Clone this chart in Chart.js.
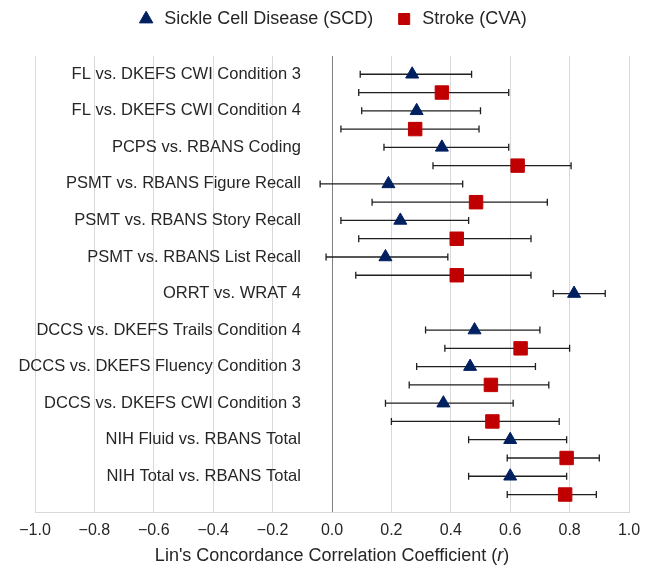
<!DOCTYPE html>
<html>
<head>
<meta charset="utf-8">
<script src="https://cdn.jsdelivr.net/npm/chart.js@4.4.1/dist/chart.umd.min.js"></script>
<style>
  html, body { margin: 0; padding: 0; background: #fff; }
  #wrap { width: 656px; height: 570px; }
</style>
</head>
<body>
<div id="wrap"><canvas id="chart"></canvas></div>
<script>
const categories = [
  'FL vs. DKEFS CWI Condition 3',
  'FL vs. DKEFS CWI Condition 4',
  'PCPS vs. RBANS Coding',
  'PSMT vs. RBANS Figure Recall',
  'PSMT vs. RBANS Story Recall',
  'PSMT vs. RBANS List Recall',
  'ORRT vs. WRAT 4',
  'DCCS vs. DKEFS Trails Condition 4',
  'DCCS vs. DKEFS Fluency Condition 3',
  'DCCS vs. DKEFS CWI Condition 3',
  'NIH Fluid vs. RBANS Total',
  'NIH Total vs. RBANS Total'
]

// Sickle Cell Disease (SCD)
const scdR    = [0.27, 0.285, 0.37, 0.19, 0.23, 0.18, 0.815, 0.48, 0.465, 0.375, 0.60, 0.60]
const scdLow  = [0.095, 0.10, 0.175, -0.04, 0.03, -0.02, 0.745, 0.315, 0.285, 0.18, 0.46, 0.46]
const scdHigh = [0.47, 0.50, 0.595, 0.44, 0.46, 0.39, 0.92, 0.70, 0.685, 0.61, 0.79, 0.79]

// Stroke (CVA)
const cvaR    = [0.37, 0.28, 0.625, 0.485, 0.42, 0.42, null, 0.635, 0.535, 0.54, 0.79, 0.785]
const cvaLow  = [0.09, 0.03, 0.34, 0.135, 0.09, 0.08, null, 0.38, 0.26, 0.20, 0.59, 0.59]
const cvaHigh = [0.595, 0.495, 0.805, 0.725, 0.67, 0.67, null, 0.80, 0.73, 0.765, 0.90, 0.89]

const xTicks = [-1, -0.8, -0.6, -0.4, -0.2, 0, 0.2, 0.4, 0.6, 0.8, 1]

const FONT = "'Liberation Sans', Arial, Helvetica, sans-serif"

// each category gets two rows: SCD on the even row, CVA just below it
const scdPoints = scdR.map((r, i) => ({ x: r, y: 2 * i, lo: scdLow[i], hi: scdHigh[i] }))
const cvaPoints = cvaR.map((r, i) => r === null ? null : ({ x: r, y: 2 * i + 1, lo: cvaLow[i], hi: cvaHigh[i] }))
  .filter(p => p !== null)

const errorBars = {
  id: 'errorBars',
  beforeDatasetsDraw(chart) {
    const { ctx, scales: { x, y } } = chart
    ctx.save()
    ctx.strokeStyle = '#1f1f1f'
    ctx.lineWidth = 1.3
    chart.data.datasets.forEach(ds => {
      ds.data.forEach(p => {
        const yy = y.getPixelForValue(p.y)
        const x1 = x.getPixelForValue(p.lo)
        const x2 = x.getPixelForValue(p.hi)
        ctx.beginPath()
        ctx.moveTo(x1, yy); ctx.lineTo(x2, yy)
        ctx.moveTo(x1, yy - 3.5); ctx.lineTo(x1, yy + 3.5)
        ctx.moveTo(x2, yy - 3.5); ctx.lineTo(x2, yy + 3.5)
        ctx.stroke()
      })
    })
    ctx.restore()
  }
}

// a bit more room between the legend and the plot
const legendGap = {
  id: 'legendGap',
  beforeInit(chart) {
    const fit = chart.legend.fit
    chart.legend.fit = function () {
      fit.call(this)
      this.height += 18
    }
  }
}

// axis title with an italic r
const axisTitle = {
  id: 'axisTitle',
  afterDraw(chart) {
    const { ctx, chartArea } = chart
    const parts = [
      { t: "Lin's Concordance Correlation Coefficient (", f: '18px ' + FONT },
      { t: 'r', f: 'italic 18px ' + FONT },
      { t: ')', f: '18px ' + FONT }
    ]
    ctx.save()
    let total = 0
    parts.forEach(p => { ctx.font = p.f; p.w = ctx.measureText(p.t).width; total += p.w })
    let xx = (chartArea.left + chartArea.right) / 2 - total / 2
    ctx.fillStyle = '#262626'
    ctx.textBaseline = 'middle'
    parts.forEach(p => { ctx.font = p.f; ctx.fillText(p.t, xx, 556); xx += p.w })
    ctx.restore()
  }
}

const ctx = document.getElementById('chart').getContext('2d')
new Chart(ctx, {
  type: 'scatter',
  data: {
    datasets: [
      {
        label: 'Sickle Cell Disease (SCD)',
        data: scdPoints,
        pointStyle: 'triangle',
        pointRadius: 7.5,
        pointHoverRadius: 7.5,
        backgroundColor: '#002060',
        borderColor: '#002060',
        borderWidth: 1
      },
      {
        label: 'Stroke (CVA)',
        data: cvaPoints,
        pointStyle: 'rect',
        pointRadius: 9.5,
        pointHoverRadius: 9.5,
        backgroundColor: '#c00000',
        borderColor: '#c00000',
        borderWidth: 1
      }
    ]
  },
  options: {
    responsive: true,
    maintainAspectRatio: false,
    animation: false,
    layout: { padding: { top: -12, left: 35, right: 27, bottom: 22 } },
    plugins: {
      tooltip: { enabled: false },
      legend: {
        position: 'top',
        labels: {
          usePointStyle: true,
          boxHeight: 11,
          padding: 22,
          color: '#262626',
          font: { family: FONT, size: 18 }
        }
      }
    },
    scales: {
      x: {
        type: 'linear',
        min: -1,
        max: 1,
        afterBuildTicks: axis => { axis.ticks = xTicks.map(v => ({ value: v })) },
        ticks: {
          color: '#262626',
          padding: 8,
          font: { family: FONT, size: 16 },
          callback: v => (Math.round(v * 10) / 10).toFixed(1).replace('-', '\u2212')
        },
        grid: {
          drawTicks: false,
          color: c => (c.tick && Math.abs(c.tick.value) < 1e-9) ? '#7f7f7f' : '#d9d9d9',
          lineWidth: 1
        },
        border: { display: true, color: '#d9d9d9' }
      },
      y: {
        type: 'linear',
        reverse: true,
        min: -1,
        max: 24,
        // category labels sit inside the plot, ending a little left of the zero line
        position: { x: -0.105 },
        afterBuildTicks: axis => { axis.ticks = categories.map((c, i) => ({ value: 2 * i })) },
        ticks: {
          autoSkip: false,
          color: '#262626',
          font: { family: FONT, size: 16.5 },
          callback: v => categories[v / 2]
        },
        grid: { display: false, drawTicks: false },
        border: { display: false }
      }
    }
  },
  plugins: [errorBars, legendGap, axisTitle]
})
</script>
</body>
</html>
